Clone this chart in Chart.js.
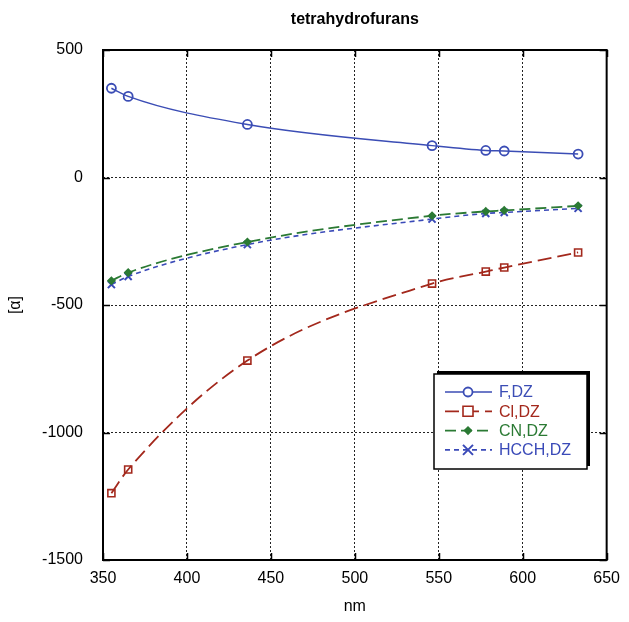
<!DOCTYPE html>
<html>
<head>
<meta charset="utf-8">
<title>tetrahydrofurans</title>
<script src="https://cdn.jsdelivr.net/npm/chart.js@4.4.1/dist/chart.umd.min.js"></script>
<style>
  html, body { margin: 0; padding: 0; background: #fff; }
  #wrap { width: 629px; height: 622px; }
</style>
</head>
<body>
<div id="wrap"><canvas id="rotationChart" width="629" height="622"></canvas></div>
<script>
// Specific rotation [α] vs wavelength (nm), one series per substituent
const wavelengths = [355, 365, 436, 546, 578, 589, 633];
const fDZ    = [350, 318, 208, 125, 106, 104, 92];
const clDZ   = [-1238, -1145, -718, -416, -369, -353, -294];
const cnDZ   = [-405, -373, -253, -150, -133, -129, -111];
const hcchDZ = [-420, -388, -263, -163, -141, -137, -121];
const seriesLabels = ['F,DZ', 'Cl,DZ', 'CN,DZ', 'HCCH,DZ'];
const xTicks = [350, 400, 450, 500, 550, 600, 650];
const yTicks = [500, 0, -500, -1000, -1500];

const FONT = '"Liberation Sans", Arial, sans-serif';
const BLUE = '#3b4db5';
const RED = '#a3281c';
const GREEN = '#2b7a34';
const BLUE2 = '#3a4ab8';

function toPoints(values) {
    return wavelengths.map((w, i) => ({ x: w, y: values[i] }));
}

// title drawn centred over the plot area
const plotTitle = {
    id: 'plotTitle',
    afterDraw(chart) {
        const { ctx, chartArea } = chart;
        ctx.save();
        ctx.font = 'bold 16px ' + FONT;
        ctx.fillStyle = '#000';
        ctx.textAlign = 'center';
        ctx.textBaseline = 'middle';
        ctx.fillText('tetrahydrofurans', (chartArea.left + chartArea.right) / 2, 20);
        ctx.restore();
    }
};

// solid frame + short inward tick marks on all four sides
const frameTicks = {
    id: 'frameTicks',
    afterDatasetsDraw(chart) {
        const { ctx, chartArea: a } = chart;
        const xs = chart.scales.x, ys = chart.scales.y;
        const len = 7;
        ctx.save();
        ctx.strokeStyle = '#000';
        ctx.lineWidth = 1.5;
        ctx.beginPath();
        xs.ticks.forEach(t => {
            const px = Math.round(xs.getPixelForValue(t.value)) + 0.5;
            ctx.moveTo(px, a.bottom); ctx.lineTo(px, a.bottom - len);
            ctx.moveTo(px, a.top); ctx.lineTo(px, a.top + len);
        });
        ys.ticks.forEach(t => {
            const py = Math.round(ys.getPixelForValue(t.value)) + 0.5;
            ctx.moveTo(a.left, py); ctx.lineTo(a.left + len, py);
            ctx.moveTo(a.right, py); ctx.lineTo(a.right - len, py);
        });
        ctx.stroke();
        ctx.lineWidth = 2;
        ctx.strokeRect(a.left, a.top, a.right - a.left, a.bottom - a.top);
        ctx.restore();
    }
};

function drawMarker(ctx, style, x, y, r) {
    ctx.beginPath();
    if (style === 'circle') {
        ctx.arc(x, y, r, 0, Math.PI * 2);
        ctx.fill(); ctx.stroke();
    } else if (style === 'rect') {
        ctx.rect(x - r, y - r, 2 * r, 2 * r);
        ctx.fill(); ctx.stroke();
    } else if (style === 'rectRot') {
        ctx.moveTo(x, y - r); ctx.lineTo(x + r, y); ctx.lineTo(x, y + r); ctx.lineTo(x - r, y);
        ctx.closePath();
        ctx.fill(); ctx.stroke();
    } else if (style === 'crossRot') {
        ctx.moveTo(x - r, y - r); ctx.lineTo(x + r, y + r);
        ctx.moveTo(x + r, y - r); ctx.lineTo(x - r, y + r);
        ctx.stroke();
    }
}

// boxed legend inside the plot, lower right
const boxLegend = {
    id: 'boxLegend',
    afterDraw(chart) {
        const { ctx } = chart;
        const left = 434, top = 374, w = 153, h = 95;
        ctx.save();
        ctx.fillStyle = '#000';
        ctx.fillRect(left + 3, top - 3, w, h);
        ctx.fillStyle = '#fff';
        ctx.fillRect(left, top, w, h);
        ctx.strokeStyle = '#000';
        ctx.lineWidth = 1.5;
        ctx.strokeRect(left, top, w, h);
        ctx.font = '16px ' + FONT;
        ctx.textBaseline = 'middle';
        chart.data.datasets.forEach((ds, i) => {
            const y = top + 18 + i * 19.3;
            ctx.strokeStyle = ds.borderColor;
            ctx.lineWidth = ds.borderWidth;
            ctx.setLineDash(ds.borderDash || []);
            ctx.beginPath();
            ctx.moveTo(left + 11, y); ctx.lineTo(left + 58, y);
            ctx.stroke();
            ctx.setLineDash([]);
            ctx.lineWidth = ds.pointBorderWidth;
            ctx.fillStyle = ds.pointStyle === 'rectRot' ? ds.borderColor : '#fff';
            drawMarker(ctx, ds.pointStyle, left + 34, y, ds.pointRadius);
            ctx.fillStyle = ds.borderColor;
            ctx.fillText(ds.label, left + 65, y + 1);
        });
        ctx.restore();
    }
};

const ctx = document.getElementById('rotationChart');
new Chart(ctx, {
    type: 'line',
    data: {
        datasets: [
            {
                label: seriesLabels[0], data: toPoints(fDZ),
                borderColor: BLUE, borderWidth: 1.5,
                pointStyle: 'circle', pointRadius: 4.5, pointBorderWidth: 1.8,
                pointBackgroundColor: 'rgba(255,255,255,0)', pointBorderColor: BLUE,
                cubicInterpolationMode: 'monotone'
            },
            {
                label: seriesLabels[1], data: toPoints(clDZ),
                borderColor: RED, borderWidth: 1.8, borderDash: [14, 6],
                pointStyle: 'rect', pointRadius: 5, pointBorderWidth: 1.6,
                pointBackgroundColor: 'rgba(255,255,255,0)', pointBorderColor: RED,
                cubicInterpolationMode: 'monotone'
            },
            {
                label: seriesLabels[2], data: toPoints(cnDZ),
                borderColor: GREEN, borderWidth: 1.8, borderDash: [11, 5],
                pointStyle: 'rectRot', pointRadius: 3.5, pointBorderWidth: 1.5,
                pointBackgroundColor: GREEN, pointBorderColor: GREEN,
                cubicInterpolationMode: 'monotone'
            },
            {
                label: seriesLabels[3], data: toPoints(hcchDZ),
                borderColor: BLUE2, borderWidth: 1.6, borderDash: [5, 4],
                pointStyle: 'crossRot', pointRadius: 5, pointBorderWidth: 2,
                pointBackgroundColor: BLUE2, pointBorderColor: BLUE2,
                cubicInterpolationMode: 'monotone'
            }
        ]
    },
    options: {
        responsive: false,
        animation: false,
        layout: { padding: { top: 50, right: 19, left: 0, bottom: 0 } },
        plugins: {
            legend: { display: false },
            title: { display: false },
            tooltip: { enabled: false }
        },
        scales: {
            x: {
                type: 'linear', min: 350, max: 650,
                afterBuildTicks: s => { s.ticks = xTicks.map(v => ({ value: v })); },
                afterFit: s => { s.height = 62; },
                grid: { color: '#222', lineWidth: 1, drawTicks: false },
                border: { display: false, dash: [2, 2] },
                ticks: { color: '#000', font: { family: FONT, size: 16 }, padding: 9, maxRotation: 0,
                         callback: v => String(v) },
                title: { display: true, text: 'nm', color: '#000', font: { family: FONT, size: 16 }, padding: { top: 0, bottom: 6 } }
            },
            y: {
                type: 'linear', min: -1500, max: 500,
                afterBuildTicks: s => { s.ticks = yTicks.map(v => ({ value: v })); },
                afterFit: s => { s.width = 103; },
                grid: { color: '#222', lineWidth: 1, drawTicks: false },
                border: { display: false, dash: [2, 2] },
                ticks: { color: '#000', font: { family: FONT, size: 16 }, padding: 20,
                         callback: v => String(v) },
                title: { display: true, text: '[α]', color: '#000', font: { family: FONT, size: 16 }, padding: { top: 6, bottom: 0 } }
            }
        }
    },
    plugins: [plotTitle, frameTicks, boxLegend]
});
</script>
</body>
</html>
